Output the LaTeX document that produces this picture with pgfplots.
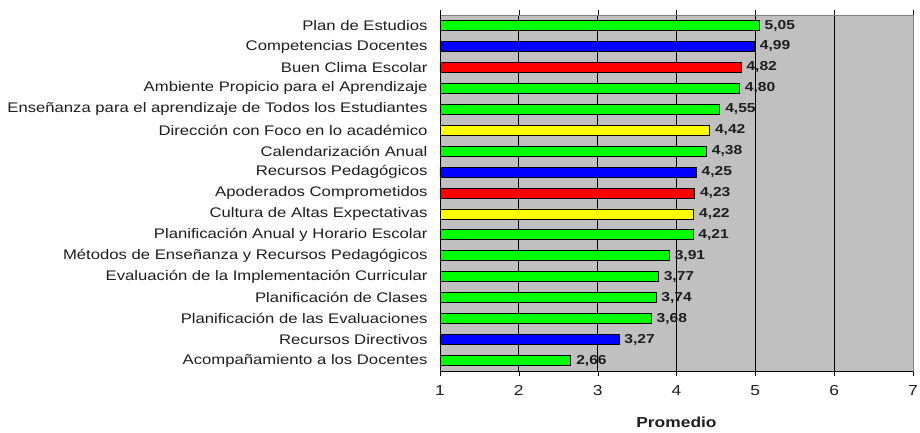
\documentclass[border=0pt]{standalone}
\usepackage{fontspec}
\setmainfont[FakeStretch=1.2]{Liberation Sans}
\usepackage{pgfplots}
\pgfplotsset{compat=1.18}
\definecolor{bg}{RGB}{192,192,192}
\definecolor{cg}{RGB}{0,255,0}
\definecolor{cb}{RGB}{0,0,255}
\definecolor{cr}{RGB}{255,0,0}
\definecolor{cy}{RGB}{255,255,0}
\definecolor{txt}{RGB}{30,30,30}
\begin{document}
\begin{tikzpicture}
\useasboundingbox (-440pt,-61pt) rectangle (480pt,371pt);
\begin{axis}[
  at={(0,0)}, anchor=south west,
  scale only axis, width=473pt, height=356pt,
  xmin=1, xmax=7, ymin=-0.5, ymax=16.5,
  xbar, bar width=10pt, bar shift=0pt,
  axis background/.style={fill=bg},
  axis line style={draw=gray},
  xtick={1,...,7},
  xmajorgrids, major grid style={black, line width=0.8pt},
  tick align=outside,
  major tick length=5pt, minor tick length=5pt,
  xtick style={black},
  ytick={0,...,16},
  ytick style={draw=none},
  minor ytick={-0.5,0.5,...,16.5},
  minor tick style={black},
  yticklabels={Acompañamiento a los Docentes,Recursos Directivos,Planificación de las Evaluaciones,Planificación de Clases,Evaluación de la Implementación Curricular,Métodos de Enseñanza y Recursos Pedagógicos,Planificación Anual y Horario Escolar,Cultura de Altas Expectativas,Apoderados Comprometidos,Recursos Pedagógicos,Calendarización Anual,Dirección con Foco en lo académico,Enseñanza para el aprendizaje de Todos los Estudiantes,Ambiente Propicio para el Aprendizaje,Buen Clima Escolar,Competencias Docentes,Plan de Estudios},
  yticklabel style={font=\fontsize{13.9}{15}\selectfont, text=txt, xshift=-4pt},
  xticklabel style={font=\fontsize{14.5}{16}\selectfont, text=txt, yshift=-6pt},
  /pgf/number format/assume math mode=true,
  xlabel={\textbf{Promedio}},
  xlabel style={font=\fontsize{14.5}{16}\selectfont, text=txt, yshift=-14pt},
  nodes near coords,
  nodes near coords style={font=\bfseries\fontsize{13}{15}\selectfont, text=txt, anchor=west, inner sep=0pt, xshift=5pt,
    /pgf/number format/.cd, use comma, fixed, fixed zerofill, precision=2},
  every axis plot/.append style={draw=black, line width=0.8pt},
]
\addplot[fill=cg] coordinates {(5.05,16) (4.80,13) (4.55,12) (4.38,10) (4.21,6) (3.91,5) (3.77,4) (3.74,3) (3.68,2) (2.66,0)};
\addplot[fill=cb] coordinates {(4.99,15) (4.25,9) (3.27,1)};
\addplot[fill=cr] coordinates {(4.82,14) (4.23,8)};
\addplot[fill=cy] coordinates {(4.42,11) (4.22,7)};
\draw[black, line width=0.8pt] (rel axis cs:0,1) -- (rel axis cs:0,0) -- (rel axis cs:1,0);
\end{axis}
\end{tikzpicture}
\end{document}
